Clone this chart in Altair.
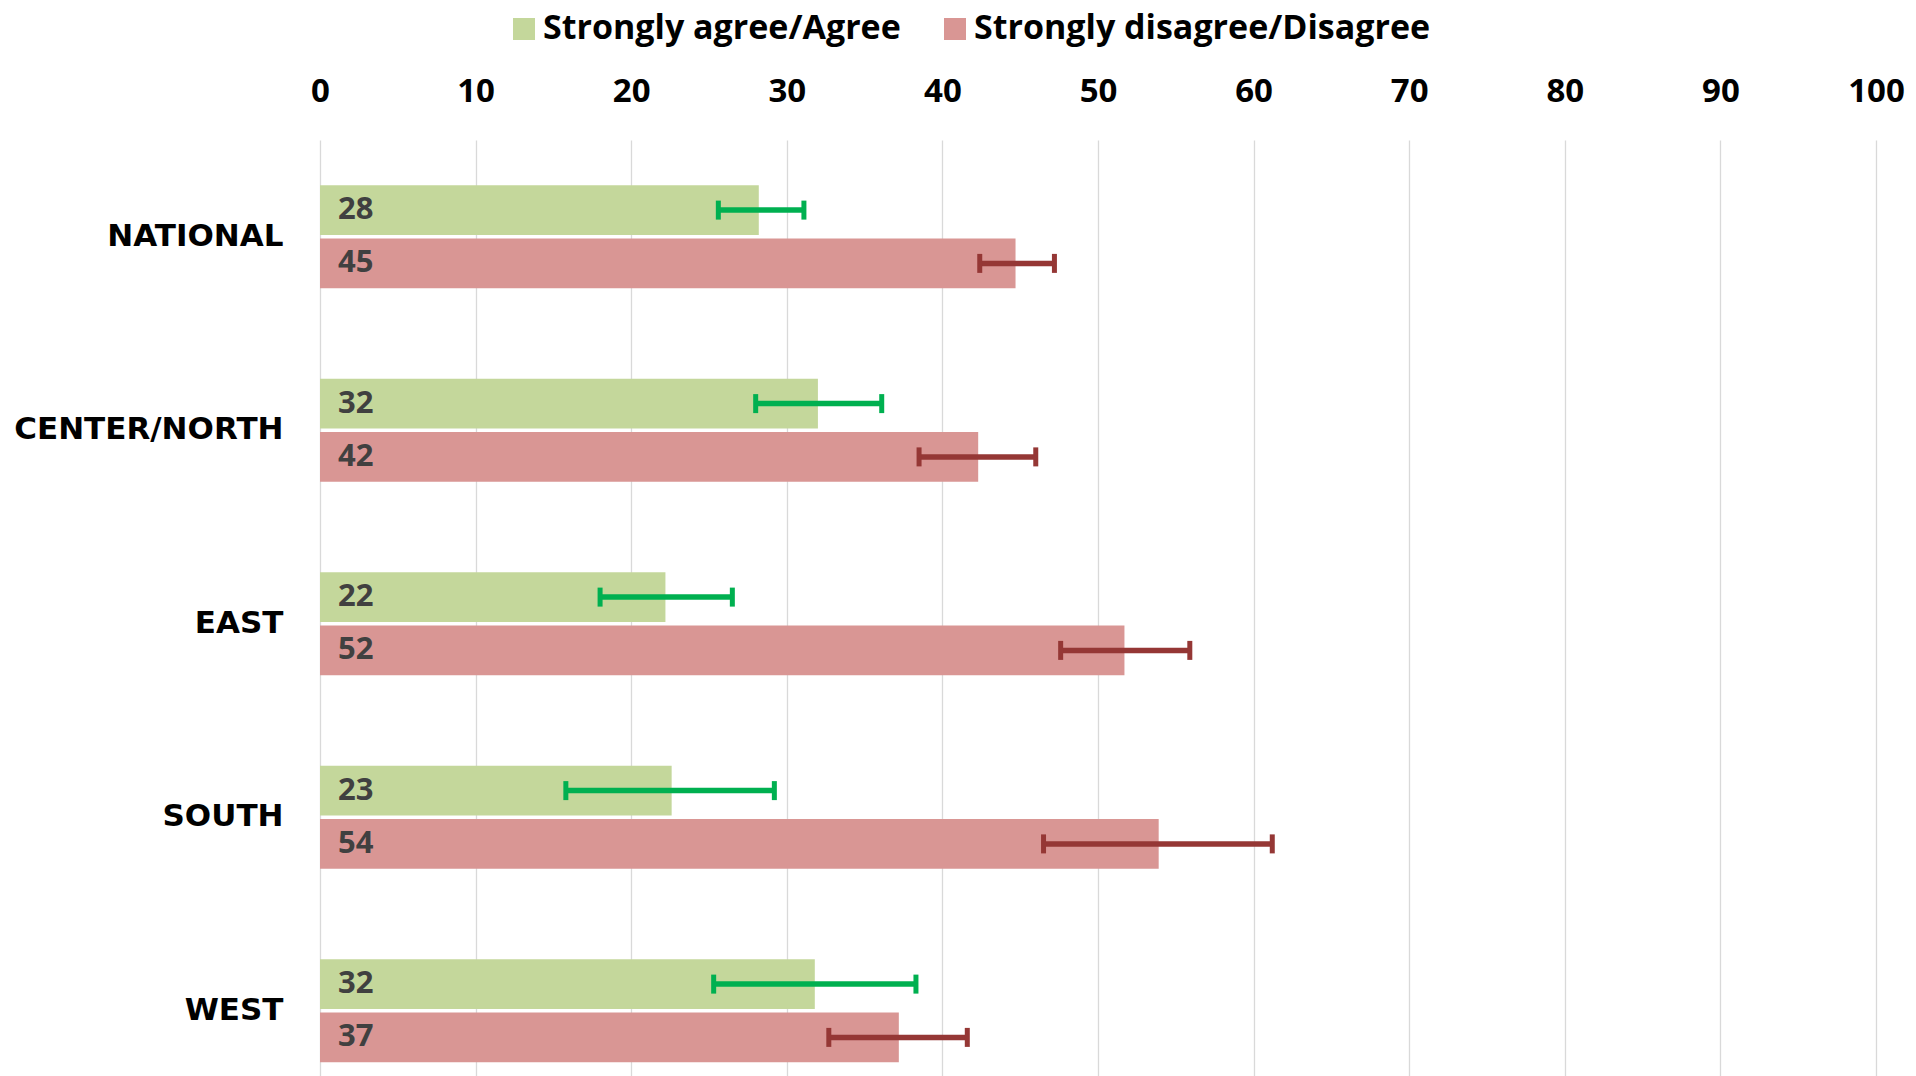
import altair as alt
import pandas as pd

regions = ["NATIONAL", "CENTER/NORTH", "EAST", "SOUTH", "WEST"]
series = ["Strongly agree/Agree", "Strongly disagree/Disagree"]

agree_pct = [28.2, 32.0, 22.2, 22.6, 31.8]
disagree_pct = [44.7, 42.3, 51.7, 53.9, 37.2]
agree_low = [25.6, 28.0, 18.0, 15.8, 25.3]
agree_high = [31.1, 36.1, 26.5, 29.2, 38.3]
disagree_low = [42.4, 38.5, 47.6, 46.5, 32.7]
disagree_high = [47.2, 46.0, 55.9, 61.2, 41.6]

x_ticks = [0, 10, 20, 30, 40, 50, 60, 70, 80, 90, 100]
bar_colors = ["#C4D79B", "#D99694"]
err_colors = ["#00B050", "#953735"]

rows = []
for i, r in enumerate(regions):
    rows.append(dict(region=r, series=series[0], value=agree_pct[i],
                     low=agree_low[i], high=agree_high[i]))
    rows.append(dict(region=r, series=series[1], value=disagree_pct[i],
                     low=disagree_low[i], high=disagree_high[i]))
df = pd.DataFrame(rows)

y_enc = alt.Y(
    "region:N", sort=regions,
    scale=alt.Scale(range=[0, 967.5], paddingInner=0.468, paddingOuter=0.234),
    axis=alt.Axis(title=None, domain=False, ticks=False, grid=False,
                  labelFont="DejaVu Sans", labelFontWeight="bold", labelFontSize=31,
                  labelColor="black", labelPadding=37, labelLimit=500),
)
yoff = alt.YOffset("series:N", sort=series,
                   scale=alt.Scale(paddingInner=0.068, paddingOuter=0))

x_enc = alt.X(
    "value:Q",
    scale=alt.Scale(domain=[0, 100], nice=False),
    axis=alt.Axis(orient="top", values=x_ticks, title=None, domain=False, ticks=False,
                  grid=True, gridColor="#D9D9D9", gridWidth=1.3,
                  labelFont="Open Sans", labelFontWeight="bold", labelFontSize=33,
                  labelColor="black", labelPadding=32, labelFlush=False),
)

color_bar = alt.Color(
    "series:N", sort=series,
    scale=alt.Scale(domain=series, range=bar_colors),
    legend=alt.Legend(title=None, orient="none", direction="horizontal",
                      legendX=187, legendY=-128, symbolType="square", symbolSize=484,
                      symbolStrokeWidth=0, symbolOpacity=1,
                      labelFont="Open Sans", labelFontWeight="bold", labelFontSize=34,
                      labelColor="black", labelOffset=2, columnPadding=37, labelLimit=800),
)
color_err = alt.Color("series:N", sort=series,
                      scale=alt.Scale(domain=series, range=err_colors), legend=None)

base = alt.Chart(df)

bars = base.mark_bar().encode(x=x_enc, y=y_enc, yOffset=yoff, color=color_bar)

labels = base.mark_text(align="left", baseline="middle", dx=18, font="Open Sans",
                        fontWeight="bold", fontSize=31, color="#404040").encode(
    x=alt.datum(0), y=alt.Y("region:N", sort=regions), yOffset=yoff,
    text=alt.Text("value:Q", format=".0f"))

err_line = base.mark_rule(strokeWidth=5.5).encode(
    x="low:Q", x2="high:Q", y=alt.Y("region:N", sort=regions), yOffset=yoff, color=color_err)
cap_lo = base.mark_tick(thickness=5, size=19, opacity=1).encode(
    x="low:Q", y=alt.Y("region:N", sort=regions), yOffset=yoff, color=color_err)
cap_hi = base.mark_tick(thickness=5, size=19, opacity=1).encode(
    x="high:Q", y=alt.Y("region:N", sort=regions), yOffset=yoff, color=color_err)

errs = alt.layer(err_line, cap_lo, cap_hi)

chart = alt.layer(bars, labels, errs).resolve_scale(color="independent").properties(
    width=1556, height=927,
    padding={"left": 5, "top": 4, "right": 0, "bottom": 0},
    background="white",
).configure_view(stroke=None)

chart.save("out.html", embed_options={"renderer": "svg", "actions": False})
